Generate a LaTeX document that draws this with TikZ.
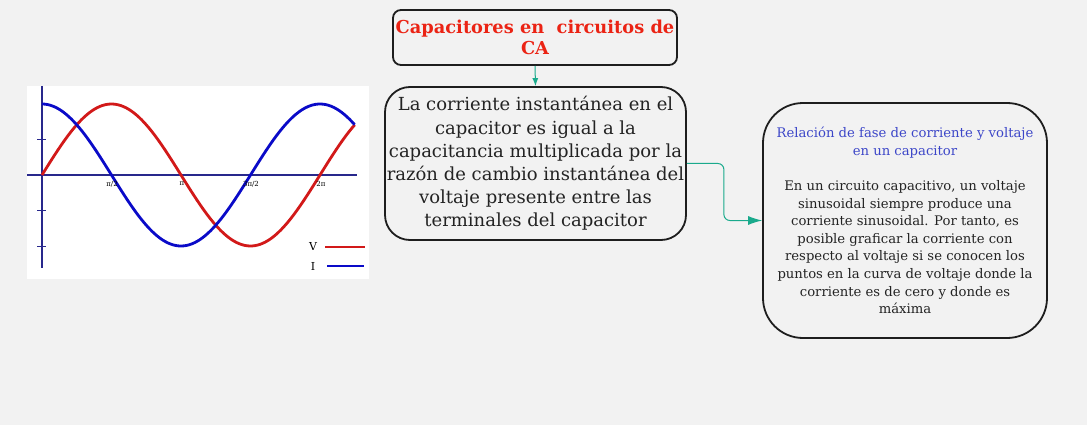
\documentclass[tikz,border=0pt]{standalone}
\usepackage{fontspec}
\setmainfont{DejaVu Serif}
\usetikzlibrary{arrows.meta}
\definecolor{bg}{RGB}{242,242,242}
\definecolor{edge}{RGB}{30,30,30}
\definecolor{teal}{RGB}{26,170,140}
\definecolor{vred}{RGB}{210,25,25}
\definecolor{iblue}{RGB}{10,10,200}
\definecolor{axisc}{RGB}{40,40,140}
\definecolor{titlered}{RGB}{235,35,20}
\definecolor{headblue}{RGB}{60,70,200}
\definecolor{txt}{RGB}{35,35,35}
\tikzset{
  box/.style={draw=edge, line width=1.8pt, fill=bg, align=center, inner sep=0pt},
  conn/.style={draw=teal, line width=1pt},
  curve/.style={line width=2.8pt, domain=0:2.25*pi, samples=120, variable=\t},
  lbl/.style={font=\fontsize{7}{7}\selectfont, inner sep=0pt}
}
\begin{document}
\begin{tikzpicture}[x=1pt,y=-1pt]
\useasboundingbox[fill=bg] (0,0) rectangle (1087,425);
% plot
\fill[white] (27,86) rectangle (369,279);
\draw[axisc, line width=1.5pt] (42,86) -- (42,268);
\draw[axisc, line width=1.5pt] (27,175) -- (357,175);
\foreach \yy in {139,210,246} \draw[axisc, line width=0.8pt] (37,\yy) -- (46,\yy);
\draw[vred, curve] plot ({42+\t*139/pi},{175-71*sin(\t r)});
\draw[iblue, curve] plot ({42+\t*139/pi},{175-71*cos(\t r)});
\node[lbl] (l1) at (112,184) {π/2};
\node[lbl] (l2) at (182,184) {π};
\node[lbl] (l3) at (251,184) {3π/2};
\node[lbl] (l4) at (321,184) {2π};
\node[font=\fontsize{11}{11}\selectfont, inner sep=0pt] (lv) at (313,246) {V};
\node[font=\fontsize{11}{11}\selectfont, inner sep=0pt] (li) at (313,266) {I};
\draw[vred, line width=2.8pt] (325,247) -- (365,247);
\draw[iblue, line width=2.8pt] (327,266) -- (364,266);
% boxes
\node[box, minimum width=284pt, minimum height=55pt, rounded corners=8pt,
      text=titlered, font=\bfseries\fontsize{17.8}{21}\selectfont] (title) at (535,37.5)
  {Capacitores en\ \ circuitos de\\CA};
\node[box, minimum width=301pt, minimum height=153pt, rounded corners=25pt,
      text=txt, font=\fontsize{18}{23.2}\selectfont] (main) at (535.5,163.5)
  {La corriente instantánea en el\\capacitor es igual a la\\capacitancia multiplicada por la\\razón de cambio instantánea del\\voltaje presente entre las\\terminales del capacitor};
\node[box, minimum width=284pt, minimum height=235pt, rounded corners=40pt,
      text=txt, font=\fontsize{13.2}{17.6}\selectfont] (fase) at (905,220.5)
  {\textcolor{headblue}{Relación de fase de corriente y voltaje}\\
   \textcolor{headblue}{en un capacitor}\\[17.6pt]
   En un circuito capacitivo, un voltaje\\sinusoidal siempre produce una\\corriente sinusoidal. Por tanto, es\\posible graficar la corriente con\\respecto al voltaje si se conocen los\\puntos en la curva de voltaje donde la\\corriente es de cero y donde es\\máxima};
% connectors
\draw[conn, -{Latex[length=8pt,width=6pt]}] (title.south) -- (main.north);
\draw[conn, rounded corners=6pt, -{Latex[length=14pt,width=9pt]}] (main.east) -- ++(37,0) |- (fase.west);
\end{tikzpicture}
\end{document}
